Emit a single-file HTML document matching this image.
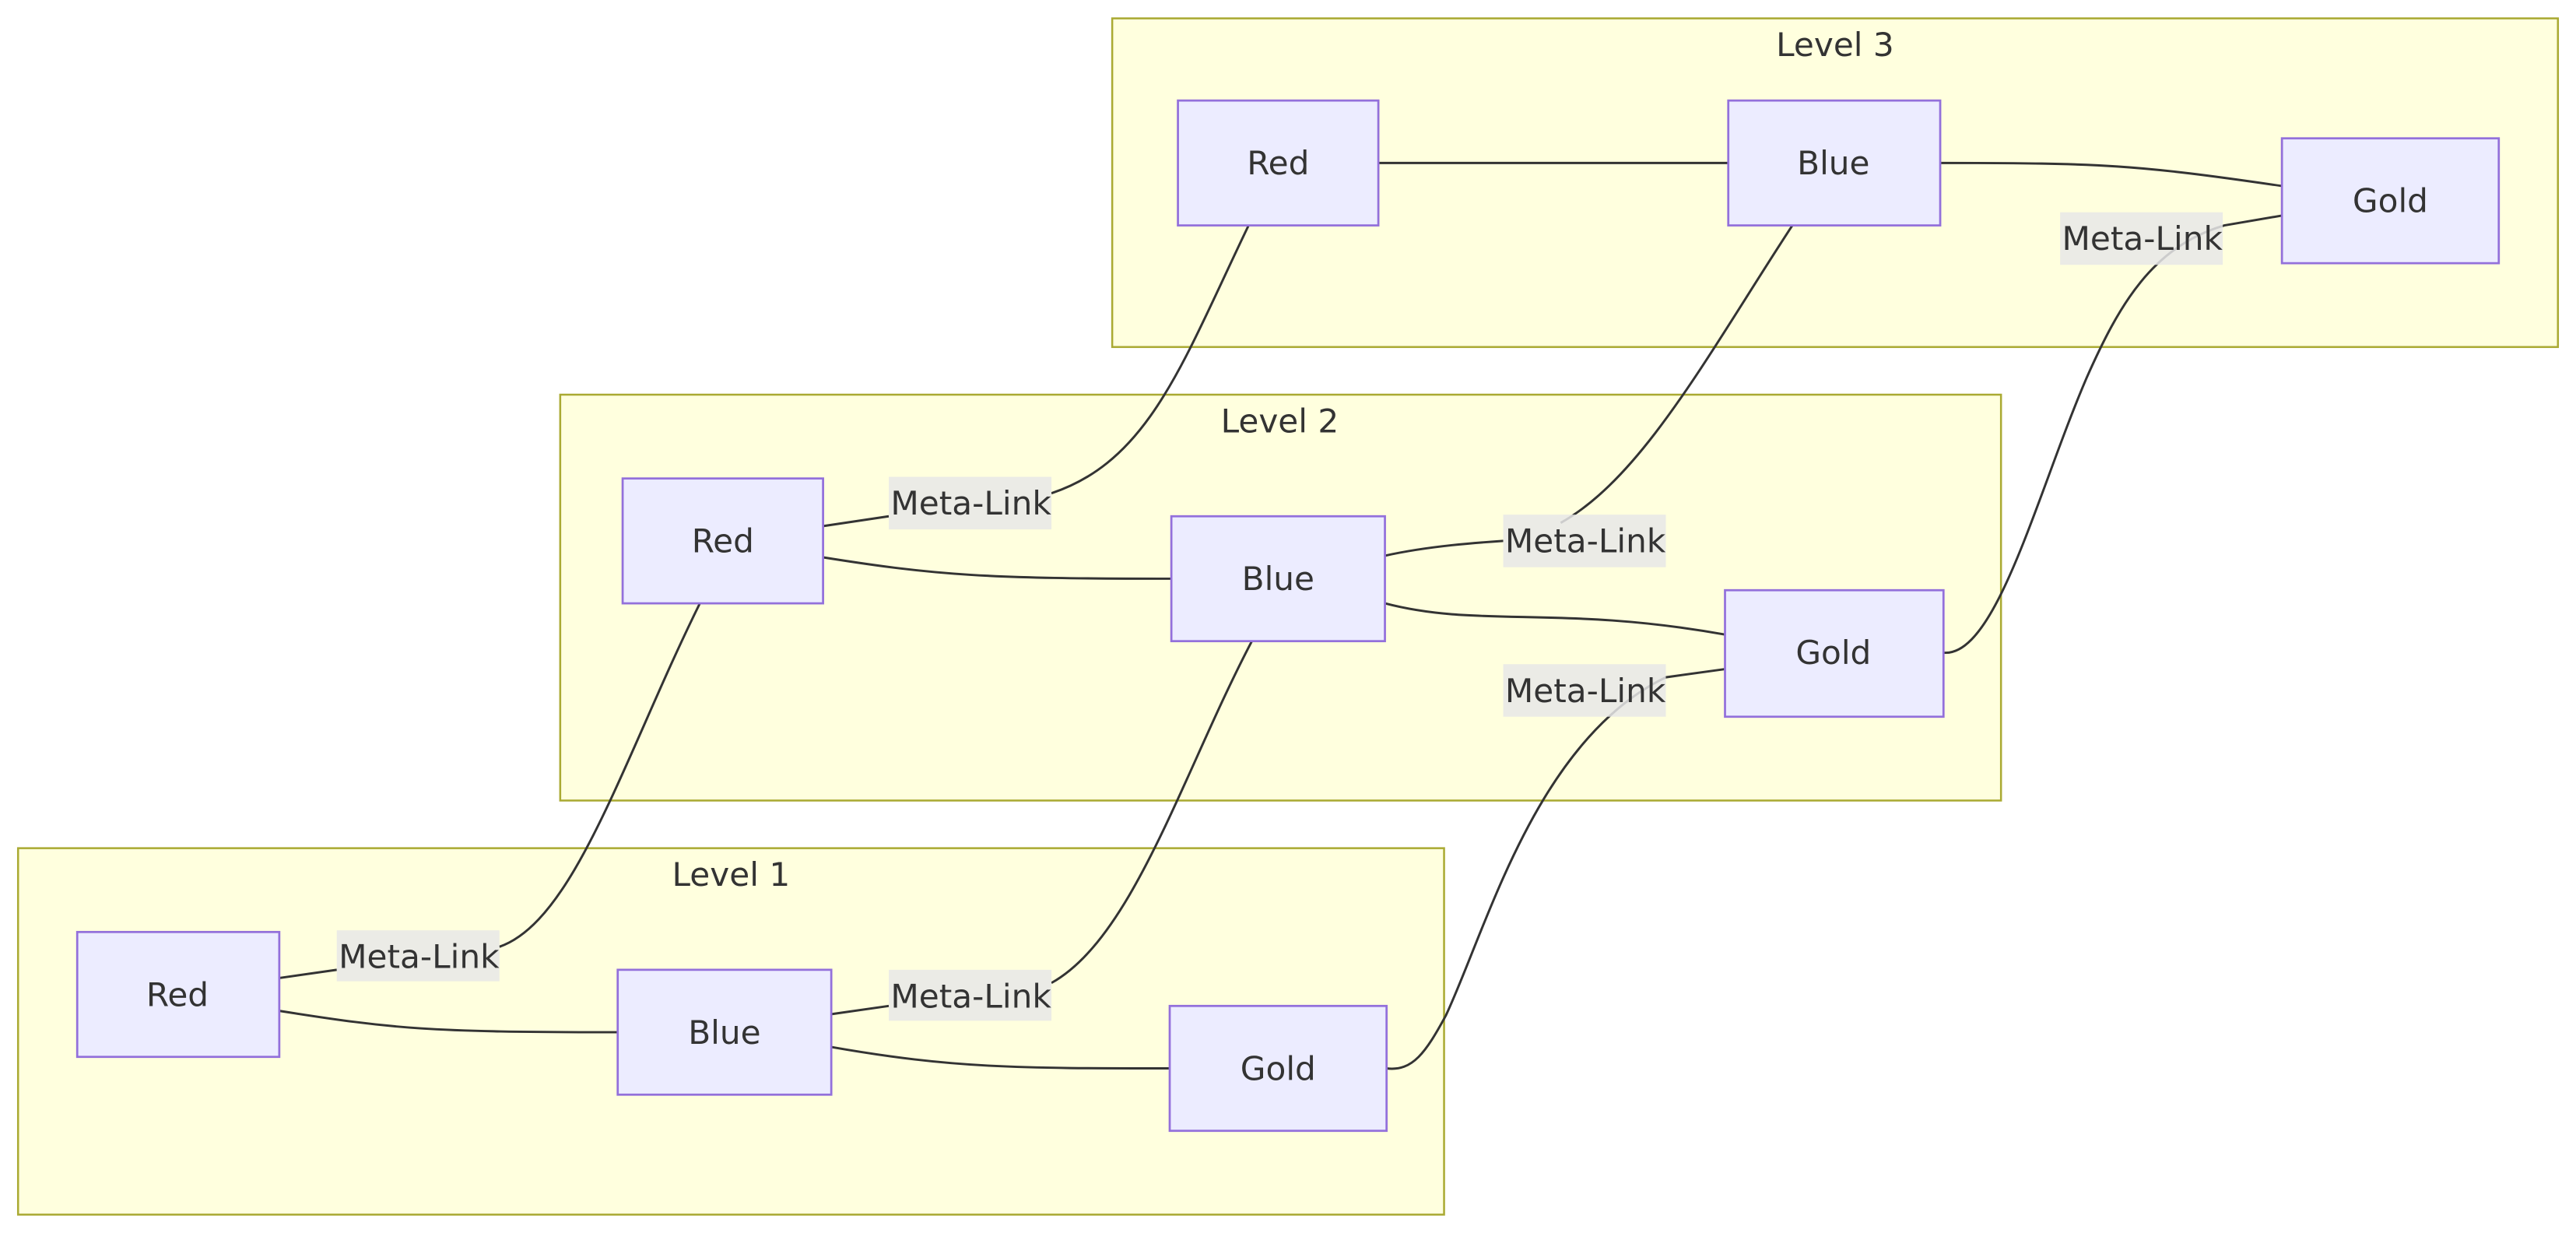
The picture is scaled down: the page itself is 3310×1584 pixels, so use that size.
<!DOCTYPE html>
<html><head><meta charset="utf-8"><style>
html,body{margin:0;padding:0;background:#fff;width:3310px;height:1584px;overflow:hidden}
svg{display:block}
text{font-family:"Trebuchet MS","DejaVu Sans","Liberation Sans",sans-serif;fill:#333}
</style></head><body>
<svg width="3310" height="1584" viewBox="0 0 1568 750" xmlns="http://www.w3.org/2000/svg">
<g fill="#ffffde" stroke="#aaaa33" stroke-width="1.2">
<rect x="11" y="516" width="868" height="223"/>
<rect x="341" y="240" width="877" height="247"/>
<rect x="677" y="11" width="880" height="200"/>
</g>
<g font-size="20" text-anchor="middle">
<text x="445" y="539">Level 1</text>
<text x="779" y="263">Level 2</text>
<text x="1117" y="34">Level 3</text>
</g>
<g fill="none" stroke="#333" stroke-width="1.4">
<path d="M170,615 C240,626 260,628 376,628"/>
<path d="M506,637 C580,650 620,650 712,650"/>
<path d="M170,595 L205,590 M304,576 C350,560 380,460 426,367"/>
<path d="M506,617 L541,612 M640,598 C690,570 720,470 762,390"/>
<path d="M844,650 C860,652 868,640 880,618 C905,565 935,450 1014,412 L1050,407"/>
<path d="M501,339 C570,350 600,352 713,352"/>
<path d="M843,367 C900,382 950,368 1050,386"/>
<path d="M501,320 L541,314 M640,300 C700,280 720,220 760,137"/>
<path d="M843,338 C870,332 900,330 915,329 M950,318 C1000,290 1040,215 1091,137"/>
<path d="M1183,397 C1215,400 1240,300 1270,230 C1290,185 1310,150 1354,137 L1389,131"/>
<path d="M839,99 L1052,99"/>
<path d="M1181,99 C1280,99 1300,100 1389,113"/>
</g>
<g fill="#ececff" stroke="#9370db" stroke-width="1.3">
<rect x="47" y="567" width="123" height="76"/>
<rect x="376" y="590" width="130" height="76"/>
<rect x="712" y="612" width="132" height="76"/>
<rect x="379" y="291" width="122" height="76"/>
<rect x="713" y="314" width="130" height="76"/>
<rect x="1050" y="359" width="133" height="77"/>
<rect x="717" y="61" width="122" height="76"/>
<rect x="1052" y="61" width="129" height="76"/>
<rect x="1389" y="84" width="132" height="76"/>
</g>
<g font-size="20" text-anchor="middle">
<text x="108" y="612">Red</text>
<text x="441" y="635">Blue</text>
<text x="778" y="657">Gold</text>
<text x="440" y="336">Red</text>
<text x="778" y="359">Blue</text>
<text x="1116" y="404">Gold</text>
<text x="778" y="106">Red</text>
<text x="1116" y="106">Blue</text>
<text x="1455" y="129">Gold</text>
</g>
<g fill="#e8e8e8" opacity="0.85">
<rect x="205" y="566" width="99" height="31"/>
<rect x="541" y="590" width="99" height="31"/>
<rect x="541" y="290" width="99" height="32"/>
<rect x="915" y="313" width="99" height="32"/>
<rect x="915" y="404" width="99" height="32"/>
<rect x="1254" y="129" width="99" height="32"/>
</g>
<g font-size="20" text-anchor="middle">
<text x="255" y="589">Meta-Link</text>
<text x="591" y="613">Meta-Link</text>
<text x="591" y="313">Meta-Link</text>
<text x="965" y="336">Meta-Link</text>
<text x="965" y="427">Meta-Link</text>
<text x="1304" y="152">Meta-Link</text>
</g>
</svg>
</body></html>
